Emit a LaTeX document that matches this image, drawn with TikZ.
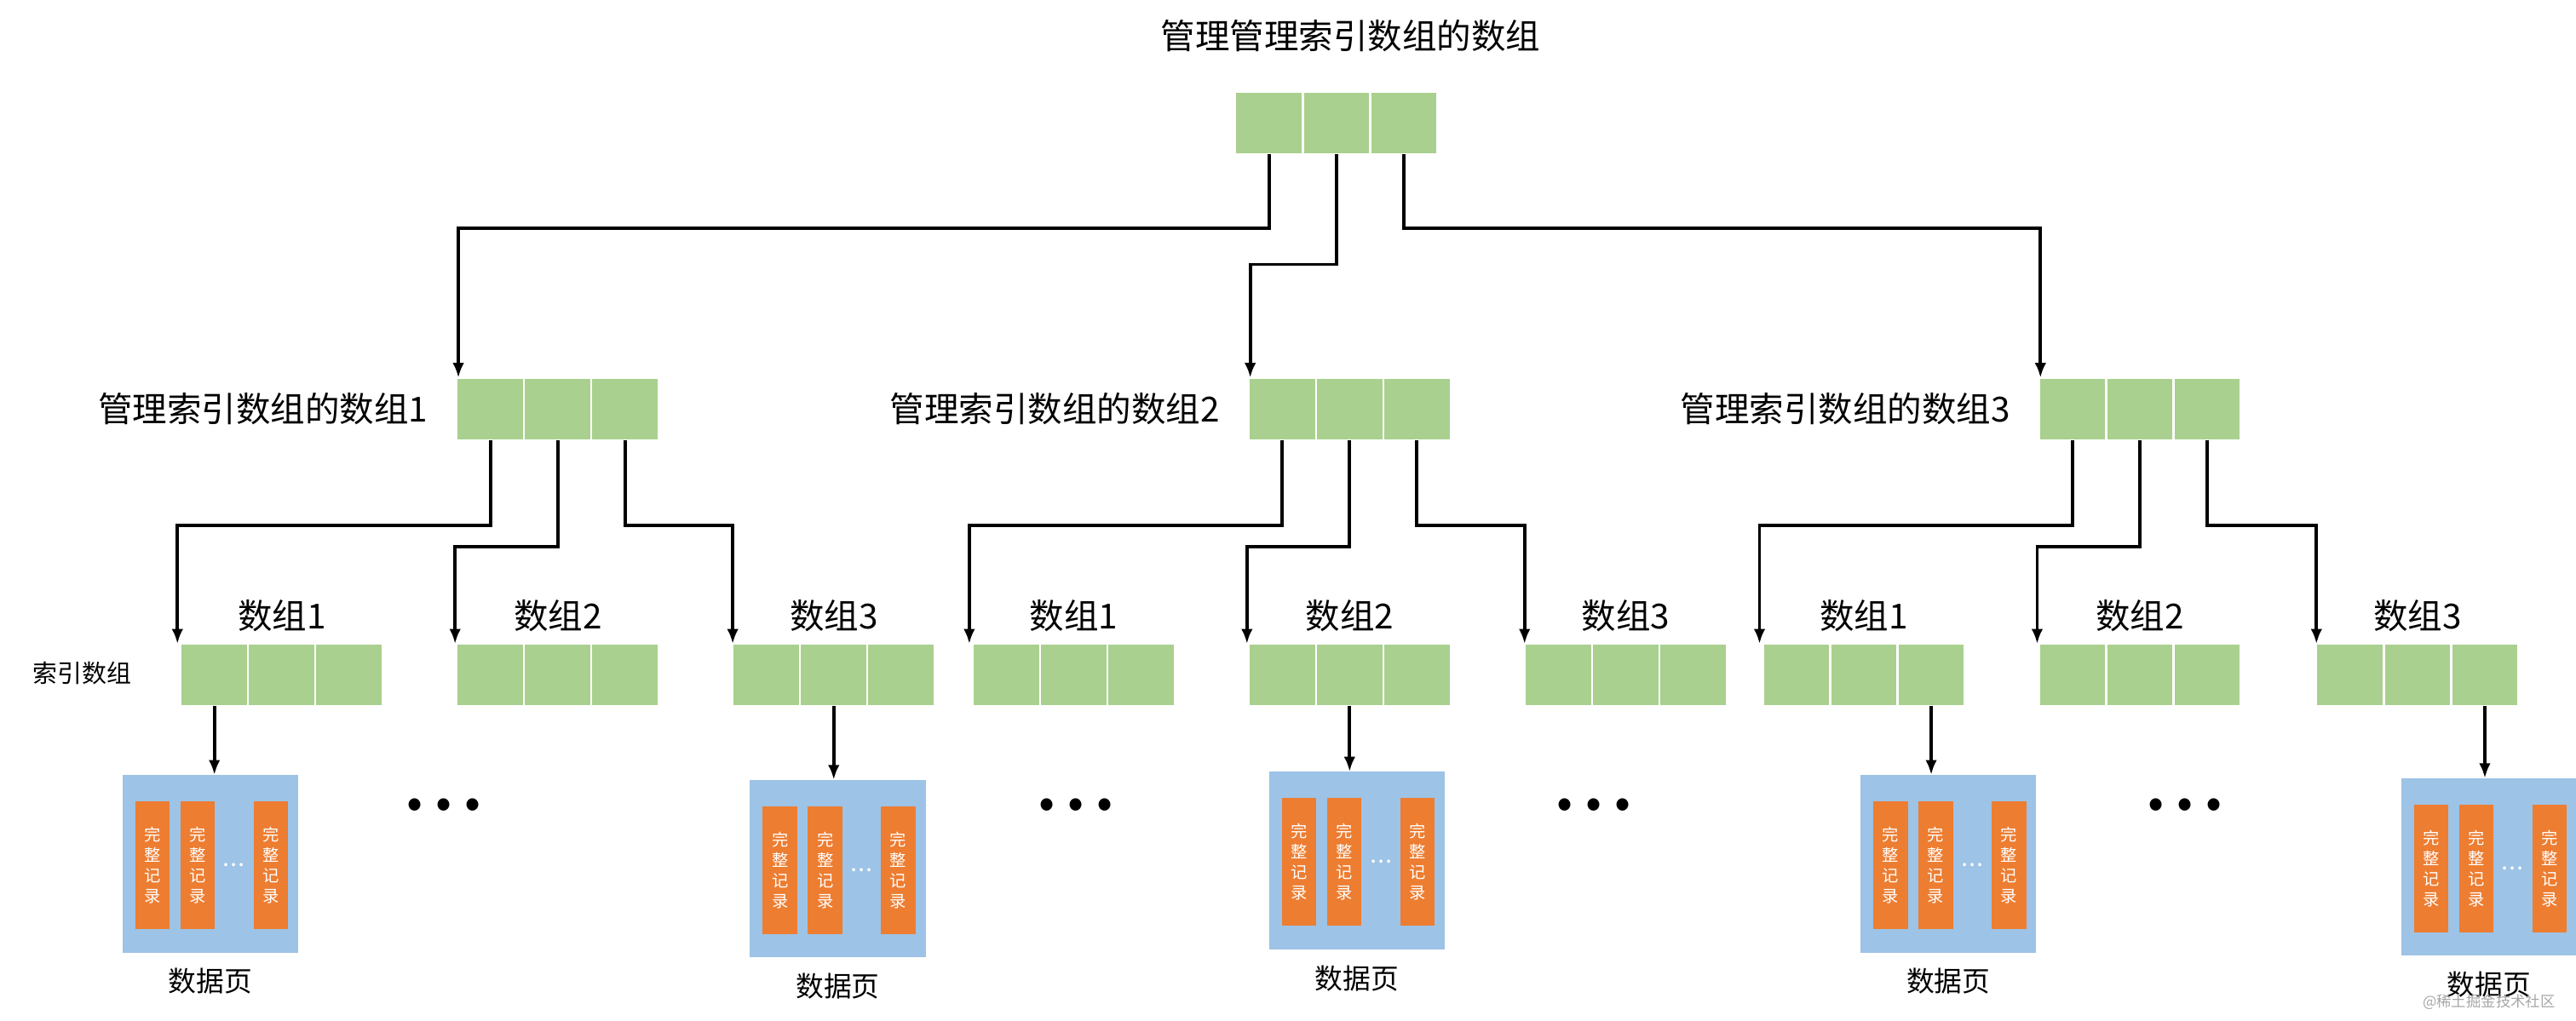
\documentclass[tikz,border=0pt]{standalone}
\usepackage{fontspec}
\setmainfont{Noto Sans CJK SC}
\usetikzlibrary{positioning, calc, arrows.meta}

\definecolor{cellgreen}{RGB}{169,208,142}
\definecolor{pageblue}{RGB}{157,195,230}
\definecolor{recorange}{RGB}{237,125,49}

\tikzset{
  cell/.style={draw=white, line width=1.2pt, fill=cellgreen, minimum width=41pt, minimum height=38pt, inner sep=0pt, outer sep=0pt},
  link/.style={line width=2pt, -{Latex[length=9pt,width=7pt]}},
  page/.style={fill=pageblue, minimum width=107pt, minimum height=108pt, inner sep=0pt},
  rec/.style={fill=recorange, minimum width=21pt, minimum height=78pt, inner sep=0pt, text=white, font=\fontsize{10}{12.5}\selectfont, align=center},
  lbl/.style={font=\fontsize{21}{24}\selectfont},
}

% array of three cells, left edge at x, vertical centre at y
\newcommand{\cellrow}[3]{%
  \node[cell] (#1-1) at (#2+20.5,#3) {};
  \node[cell, right=0pt of #1-1] (#1-2) {};
  \node[cell, right=0pt of #1-2] (#1-3) {};
}

\begin{document}
\begin{tikzpicture}[x=1pt,y=-1pt]
    \useasboundingbox (0,0) rectangle (1568,621.7);

    % top level
    \node[lbl] (title) at (822,22) {管理管理索引数组的数组};
    \cellrow{top}{752}{75}

    % second level
    \cellrow{a1}{278}{249}
    \cellrow{a2}{760}{249}
    \cellrow{a3}{1241}{249}
    \node[lbl, anchor=east] (la1) at ($(a1-1.west)+(-14,0)$) {管理索引数组的数组1};
    \node[lbl, anchor=east] (la2) at ($(a2-1.west)+(-14,0)$) {管理索引数组的数组2};
    \node[lbl, anchor=east] (la3) at ($(a3-1.west)+(-14,0)$) {管理索引数组的数组3};

    \draw[link] (top-1.south) -- ++(0,45) -| ($(a1-1.north west)+(1,0)$);
    \draw[link] (top-2.south) -- ++(0,67) -| ($(a2-1.north west)+(1,0)$);
    \draw[link] (top-3.south) -- ++(0,45) -| ($(a3-1.north west)+(1,0)$);

    % third level
    \foreach \i/\x/\k in {1/110/1, 2/278/2, 3/446/3, 4/592/1, 5/760/2, 6/928/3, 7/1073/1, 8/1241/2, 9/1410/3} {
      \cellrow{b\i}{\x}{411}
      \node[lbl, anchor=south] (lb\i) at ($(b\i-2.north)+(0,-4)$) {数组\k};
    }
    \node[font=\fontsize{15}{18}\selectfont] (idx) at (50,410) {索引数组};

    \foreach \p/\c in {a1/b1, a2/b4, a3/b7} {
      \draw[link] (\p-1.south) -- ++(0,52) -| ($(\c-1.north west)+(-2,0)$);
    }
    \foreach \p/\c in {a1/b2, a2/b5, a3/b8} {
      \draw[link] (\p-2.south) -- ++(0,65) -| ($(\c-1.north west)+(-1,0)$);
    }
    \foreach \p/\c in {a1/b3, a2/b6, a3/b9} {
      \draw[link] (\p-3.south) -- ++(0,52) -| (\c-1.north west);
    }

    % data pages
    \foreach \n/\x/\y/\src in {1/128/526/b1-1, 2/510/529/b3-2, 3/826/524/b5-2, 4/1186/526/b7-3, 5/1515/528/b9-3} {
      \node[page] (pg\n) at (\x,\y) {};
      \node[rec] (r\n a) at ($(pg\n.north west)+(18.5,55)$) {完\\整\\记\\录};
      \node[rec] (r\n b) at ($(pg\n.north west)+(46,55)$) {完\\整\\记\\录};
      \node[rec] (r\n c) at ($(pg\n.north west)+(90.5,55)$) {完\\整\\记\\录};
      \node[text=white, font=\bfseries\fontsize{9}{9}\selectfont] (d\n) at ($(r\n b)!0.5!(r\n c)$) {.\,.\,.};
      \node[font=\fontsize{17}{20}\selectfont, below=6pt of pg\n] (lp\n) {数据页};
      \draw[link] (\src.south) -- (\src.south |- pg\n.north);
    }

    % gaps between pages
    \foreach \x in {270, 655, 970, 1330} {
      \node[font=\bfseries\fontsize{34}{34}\selectfont] at (\x,490) {.\,.\,.};
    }

    \node[text=gray!70, font=\fontsize{9}{10}\selectfont] (mark) at (1515,610) {@稀土掘金技术社区};
\end{tikzpicture}
\end{document}
